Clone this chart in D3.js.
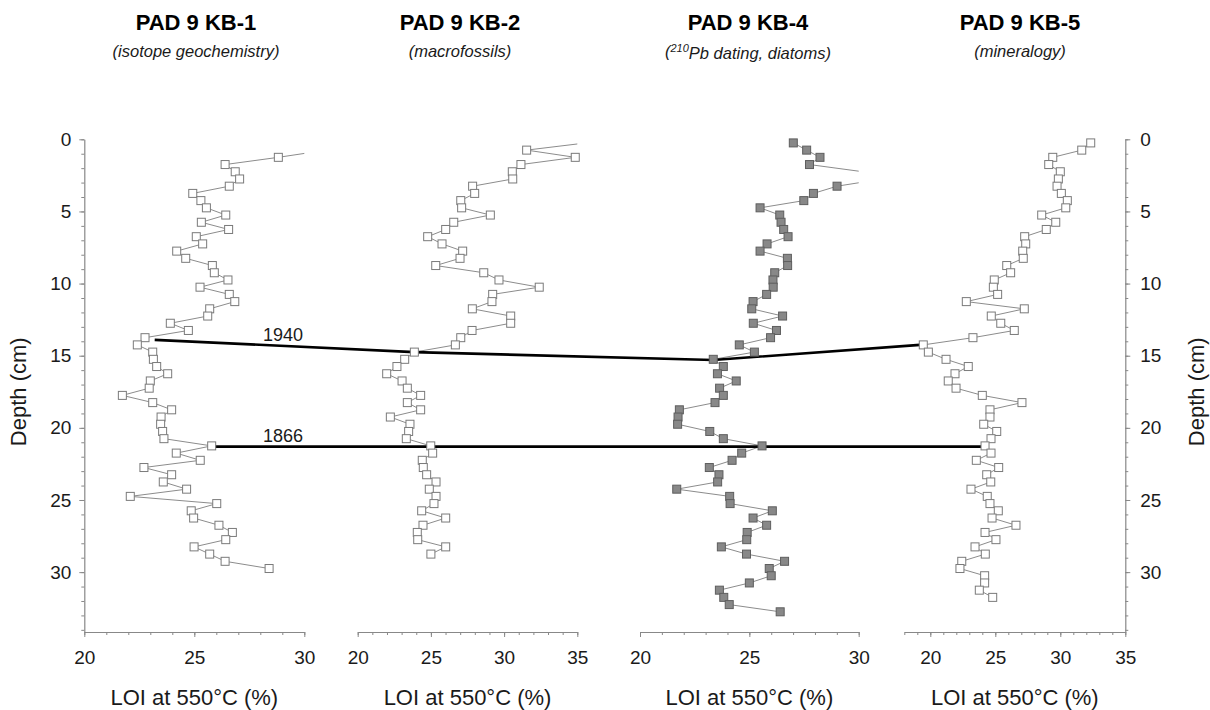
<!DOCTYPE html>
<html>
<head>
<meta charset="utf-8">
<script src="https://cdn.jsdelivr.net/npm/d3@7"></script>
<style>
  body { margin: 0; background: #fff; }
  svg { font-family: "Liberation Sans", Arial, sans-serif; }
</style>
</head>
<body>
<div id="chart"></div>
<script>
// ---- data (depth cm, LOI at 550 °C %) ----
const coreNames = ["PAD 9 KB-1", "PAD 9 KB-2", "PAD 9 KB-4", "PAD 9 KB-5"];
// ^...^ marks superscript
const coreSubtitles = ["(isotope geochemistry)", "(macrofossils)", "(^210^Pb dating, diatoms)", "(mineralogy)"];
const xDomains = [[20, 30], [20, 35], [20, 30], [18, 35]];
const xTicks = [[20, 25, 30], [20, 25, 30, 35], [20, 25, 30], [20, 25, 30, 35]];
const depthTicks = [0, 5, 10, 15, 20, 25, 30];
const depthMax = 34.15;

const kb1 = [
  [0.75, 31.0], [1.25, 28.82], [1.75, 26.40], [2.25, 26.86], [2.75, 27.06], [3.25, 26.59],
  [3.75, 24.93], [4.25, 25.30], [4.75, 25.55], [5.25, 26.43], [5.75, 25.32], [6.25, 26.56],
  [6.75, 25.09], [7.25, 25.38], [7.75, 24.20], [8.25, 24.61], [8.75, 25.82], [9.25, 25.91],
  [9.75, 26.53], [10.25, 25.26], [10.75, 26.59], [11.25, 26.84], [11.75, 25.70], [12.25, 25.61],
  [12.75, 23.91], [13.25, 24.73], [13.75, 22.76], [14.25, 22.41], [14.75, 23.11], [15.25, 23.14],
  [15.75, 23.29], [16.25, 23.79], [16.75, 23.00], [17.25, 22.95], [17.75, 21.73], [18.25, 23.11],
  [18.75, 23.97], [19.25, 23.49], [19.75, 23.47], [20.25, 23.56], [20.75, 23.62], [21.25, 25.79],
  [21.75, 24.18], [22.25, 25.27], [22.75, 22.71], [23.25, 23.97], [23.75, 23.59], [24.25, 24.65],
  [24.75, 22.09], [25.25, 26.02], [25.75, 24.86], [26.25, 24.97], [26.75, 26.12], [27.25, 26.73],
  [27.75, 26.43], [28.25, 24.99], [28.75, 25.70], [29.25, 26.40], [29.75, 28.40]
];
const kb2 = [
  [0.25, 35.6], [0.75, 31.54], [1.25, 34.86], [1.75, 31.15], [2.25, 30.56], [2.75, 30.59],
  [3.25, 27.85], [3.75, 27.99], [4.25, 27.04], [4.75, 27.10], [5.25, 29.06], [5.75, 26.56],
  [6.25, 26.01], [6.75, 24.78], [7.25, 25.76], [7.75, 27.17], [8.25, 26.99], [8.75, 25.33],
  [9.25, 28.61], [9.75, 29.65], [10.25, 32.40], [10.75, 29.22], [11.25, 29.17], [11.75, 27.83],
  [12.25, 30.45], [12.75, 30.45], [13.25, 27.81], [13.75, 27.04], [14.25, 26.67], [14.75, 23.87],
  [15.25, 23.21], [15.75, 22.68], [16.25, 21.98], [16.75, 23.03], [17.25, 23.39], [17.75, 24.30],
  [18.25, 23.39], [18.75, 24.30], [19.25, 22.23], [19.75, 23.57], [20.25, 23.48], [20.75, 23.32],
  [21.25, 24.99], [21.75, 25.12], [22.25, 24.41], [22.75, 24.48], [23.25, 24.71], [23.75, 25.35],
  [24.25, 24.89], [24.75, 25.35], [25.25, 25.21], [25.75, 24.37], [26.25, 26.01], [26.75, 24.46],
  [27.25, 24.07], [27.75, 24.10], [28.25, 26.01], [28.75, 25.00]
];
const kb4 = [
  [0.25, 27.01], [0.75, 27.62], [1.25, 28.23], [1.75, 27.75], [2.25, 30.2], [2.75, 31.1],
  [3.25, 29.01], [3.75, 27.93], [4.25, 27.49], [4.75, 25.49], [5.25, 26.39], [5.75, 26.45],
  [6.25, 26.57], [6.75, 26.77], [7.25, 25.81], [7.75, 25.49], [8.25, 26.74], [8.75, 26.75],
  [9.25, 26.16], [9.75, 26.08], [10.25, 26.09], [10.75, 25.79], [11.25, 25.17], [11.75, 25.11],
  [12.25, 26.52], [12.75, 25.18], [13.25, 26.24], [13.75, 25.97], [14.25, 24.54], [14.75, 25.23],
  [15.25, 23.35], [15.75, 23.81], [16.25, 23.54], [16.75, 24.40], [17.25, 23.64], [17.75, 23.81],
  [18.25, 23.43], [18.75, 21.80], [19.25, 21.74], [19.75, 21.72], [20.25, 23.19], [20.75, 23.81],
  [21.25, 25.58], [21.75, 24.65], [22.25, 24.21], [22.75, 23.17], [23.25, 23.61], [23.75, 23.55],
  [24.25, 21.68], [24.75, 24.10], [25.25, 24.12], [25.75, 26.05], [26.25, 25.17], [26.75, 25.79],
  [27.25, 24.90], [27.75, 24.88], [28.25, 23.72], [28.75, 24.87], [29.25, 26.61], [29.75, 25.91],
  [30.25, 26.00], [30.75, 25.00], [31.25, 23.63], [31.75, 23.83], [32.25, 24.08], [32.75, 26.41]
];
const kb5 = [
  [0.25, 32.34], [0.75, 31.65], [1.25, 29.42], [1.75, 29.11], [2.25, 30.00], [2.75, 29.85],
  [3.25, 29.75], [3.75, 30.08], [4.25, 30.54], [4.75, 30.42], [5.25, 28.57], [5.75, 29.65],
  [6.25, 28.92], [6.75, 27.26], [7.25, 27.34], [7.75, 27.11], [8.25, 27.15], [8.75, 25.88],
  [9.25, 26.18], [9.75, 24.92], [10.25, 24.85], [10.75, 25.18], [11.25, 22.77], [11.75, 27.23],
  [12.25, 24.69], [12.75, 25.42], [13.25, 26.46], [13.75, 23.28], [14.25, 19.46], [14.75, 19.85],
  [15.25, 21.21], [15.75, 22.92], [16.25, 21.90], [16.75, 21.38], [17.25, 21.98], [17.75, 24.00],
  [18.25, 27.05], [18.75, 24.59], [19.25, 24.59], [19.75, 24.11], [20.25, 25.11], [20.75, 24.67],
  [21.25, 24.21], [21.75, 24.67], [22.25, 23.54], [22.75, 25.26], [23.25, 24.34], [23.75, 24.65],
  [24.25, 23.13], [24.75, 24.38], [25.25, 24.59], [25.75, 25.23], [26.25, 24.75], [26.75, 26.59],
  [27.25, 24.21], [27.75, 25.05], [28.25, 23.44], [28.75, 24.23], [29.25, 22.42], [29.75, 22.28],
  [30.25, 24.18], [30.75, 24.18], [31.25, 23.77], [31.75, 24.80]
];
const coreData = [kb1, kb2, kb4, kb5];

// correlation lines: [core index, depth, LOI]
const tieYears = ["1940", "1866"];
const tie1940 = [[0, 13.9, 23.2], [1, 14.75, 23.87], [2, 15.3, 23.35], [3, 14.25, 19.2]];
const tie1866 = [[0, 21.3, 25.79], [3, 21.3, 23.95]];

// ---- layout ----
const width = 1210, height = 710;
const panelRanges = [[84.3, 304.3], [357.7, 577.3], [640, 858.7], [904.3, 1125.3]];
const titleX = [196, 460, 748, 1020];
const yTop = 139.3, yBottom = 632;
const axisColor = "#888";
const textColor = "#1a1a1a";
const tieLabelX = 283;

const svg = d3.select("#chart")
  .append("svg")
  .attr("width", width)
  .attr("height", height);

const yScale = d3.scaleLinear().domain([0, depthMax]).range([yTop, yBottom]);
const xScales = xDomains.map((dom, i) => d3.scaleLinear().domain(dom).range(panelRanges[i]));

function styleAxis(g) {
  g.select(".domain").attr("stroke", axisColor).attr("stroke-width", 1.2);
  g.selectAll(".tick line").attr("stroke", axisColor);
  g.selectAll(".tick text").attr("fill", textColor).style("font-size", "19px");
}

// clip paths for lines running off the panel
const defs = svg.append("defs");
panelRanges.forEach((r, i) => {
  defs.append("clipPath").attr("id", "clip" + i)
    .append("rect")
    .attr("x", r[0]).attr("y", yTop - 10)
    .attr("width", r[1] - r[0]).attr("height", yBottom - yTop + 10);
});

// x axes
xScales.forEach((x, i) => {
  const dom = xDomains[i];
  svg.append("g")
    .attr("transform", `translate(0,${yBottom})`)
    .call(d3.axisBottom(x).tickValues(d3.range(dom[0], dom[1] + 0.5, 1))
      .tickSize(3).tickSizeOuter(0).tickFormat(""))
    .call(styleAxis);
  svg.append("g")
    .attr("transform", `translate(0,${yBottom})`)
    .call(d3.axisBottom(x).tickValues(xTicks[i]).tickSize(5).tickSizeOuter(0)
      .tickPadding(14).tickFormat(d3.format("d")))
    .call(styleAxis)
    .select(".domain").remove();

  svg.append("text")
    .attr("x", (panelRanges[i][0] + panelRanges[i][1]) / 2)
    .attr("y", 705)
    .attr("text-anchor", "middle")
    .attr("fill", textColor)
    .style("font-size", "22px")
    .text("LOI at 550°C (%)");
});

// y axes, left and right
const minorDepth = d3.range(0, 34.01, 1);
[["left", panelRanges[0][0]], ["right", panelRanges[3][1]]].forEach(([side, xPos]) => {
  const mk = side === "left" ? d3.axisLeft : d3.axisRight;
  svg.append("g")
    .attr("transform", `translate(${xPos},0)`)
    .call(mk(yScale).tickValues(minorDepth).tickSize(3).tickSizeOuter(0).tickFormat(""))
    .call(styleAxis);
  svg.append("g")
    .attr("transform", `translate(${xPos},0)`)
    .call(mk(yScale).tickValues(depthTicks).tickSize(5).tickSizeOuter(0)
      .tickPadding(side === "left" ? 8 : 10))
    .call(styleAxis)
    .select(".domain").remove();

  const lx = side === "left" ? 18 : 1196;
  svg.append("text")
    .attr("transform", `translate(${lx},${yScale(17.5)}) rotate(-90)`)
    .attr("text-anchor", "middle")
    .attr("dy", "0.35em")
    .attr("fill", textColor)
    .style("font-size", "22px")
    .text("Depth (cm)");
});

// data lines
const line = (i) => d3.line()
  .x(d => xScales[i](d[1]))
  .y(d => yScale(d[0]));

coreData.forEach((data, i) => {
  svg.append("path")
    .datum(data)
    .attr("clip-path", `url(#clip${i})`)
    .attr("d", line(i))
    .attr("fill", "none")
    .attr("stroke", "#8c8c8c")
    .attr("stroke-width", 1);
});

// correlation lines
const tieLine = d3.line()
  .x(d => xScales[d[0]](d[2]))
  .y(d => yScale(d[1]));

[tie1940, tie1866].forEach((tie, k) => {
  svg.append("path")
    .datum(tie)
    .attr("d", tieLine)
    .attr("fill", "none")
    .attr("stroke", "#000")
    .attr("stroke-width", 2.6);

  // y of the first segment at the label position
  const x0 = xScales[tie[0][0]](tie[0][2]), y0 = yScale(tie[0][1]);
  const x1 = xScales[tie[1][0]](tie[1][2]), y1 = yScale(tie[1][1]);
  const yAt = y0 + (y1 - y0) * (tieLabelX - x0) / (x1 - x0);
  svg.append("text")
    .attr("x", tieLabelX)
    .attr("y", yAt - 5)
    .attr("text-anchor", "middle")
    .attr("fill", textColor)
    .style("font-size", "18px")
    .text(tieYears[k]);
});

// markers
const sq = 8;
coreData.forEach((data, i) => {
  const filled = i === 2;
  svg.append("g")
    .selectAll("rect")
    .data(data.filter(d => d[1] <= xDomains[i][1]))
    .join("rect")
    .attr("x", d => xScales[i](d[1]) - sq / 2)
    .attr("y", d => yScale(d[0]) - sq / 2)
    .attr("width", sq)
    .attr("height", sq)
    .attr("fill", filled ? "#888" : "#fff")
    .attr("stroke", filled ? "#5e5e5e" : "#7a7a7a")
    .attr("stroke-width", 1);
});

// titles
coreNames.forEach((name, i) => {
  svg.append("text")
    .attr("x", titleX[i])
    .attr("y", 30)
    .attr("text-anchor", "middle")
    .attr("fill", "#000")
    .style("font-size", "22px")
    .style("font-weight", "bold")
    .text(name);

  const sub = svg.append("text")
    .attr("x", titleX[i])
    .attr("y", 57)
    .attr("text-anchor", "middle")
    .attr("fill", textColor)
    .style("font-size", "16.5px")
    .style("font-style", "italic");
  coreSubtitles[i].split("^").forEach((part, j) => {
    const t = sub.append("tspan").text(part);
    if (j % 2 === 1) {
      t.attr("dy", "-0.45em").style("font-size", "11px");
    } else if (j > 0) {
      t.attr("dy", "0.45em");
    }
  });
});
</script>
</body>
</html>
